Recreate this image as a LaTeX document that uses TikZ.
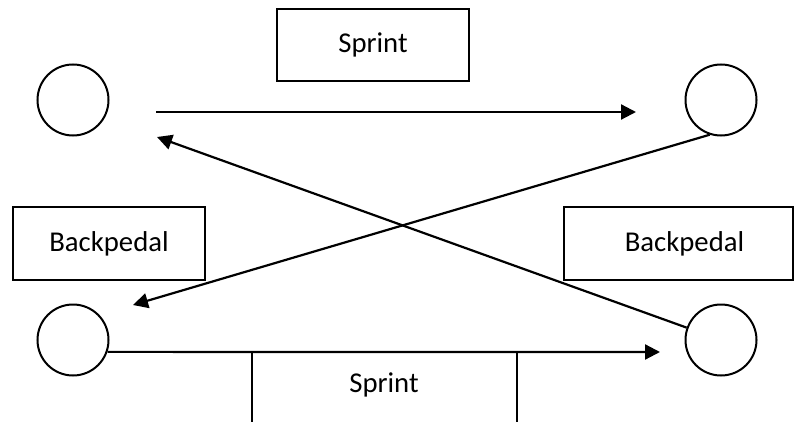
\documentclass[tikz,border=0pt]{standalone}
\usepackage{fontspec}
\setmainfont{Carlito}
\usetikzlibrary{arrows.meta}
\begin{document}
\begin{tikzpicture}[x=1pt,y=-1pt,
  every node/.style={font=\fontsize{28.7}{34}\selectfont},
  runner/.style={circle,draw,line width=2pt,minimum size=71pt,inner sep=0pt},
  labelbox/.style={draw,line width=2pt,inner sep=0pt},
  conn/.style={line width=2.2pt},
  arr/.style={conn,-{Triangle[length=15pt,width=15pt]}}]
\useasboundingbox (0,0) rectangle (794,422);
\fill[white] (0,0) rectangle (794,422);
% circles
\node[runner] (tl) at (73,100) {};
\node[runner] (tr) at (721,100) {};
\node[runner] (bl) at (73,340) {};
\node[runner] (br) at (721,340) {};
% boxes
\node[labelbox,minimum width=192pt,minimum height=72pt] (sp1) at (373,45) {Sprint};
\node[labelbox,minimum width=192pt,minimum height=73pt] (bp1) at (109,243.5) {Backpedal};
\node[labelbox,minimum width=229pt,minimum height=73pt] (bp2) at (678.5,243.5) {\hspace*{12pt}Backpedal};
\node[inner sep=0pt] (sp2) at (384,385) {Sprint};
\draw[conn] (252,422) -- (252,352);
\draw[conn] (517,422) -- (517,352);
% free ends
\coordinate (a1s) at (156,112);
\coordinate (a1e) at (636,112);
\coordinate (a2e) at (133,305);
\coordinate (a3e) at (157,137);
\coordinate (a4e) at (660,352);
% arrows
\draw[arr] (a1s) -- (a1e);
\draw[arr] (tr.252) -- (a2e);
\draw[arr] (br) -- (a3e);
\draw[arr] (bl.-19) -- (a4e);
\end{tikzpicture}
\end{document}
